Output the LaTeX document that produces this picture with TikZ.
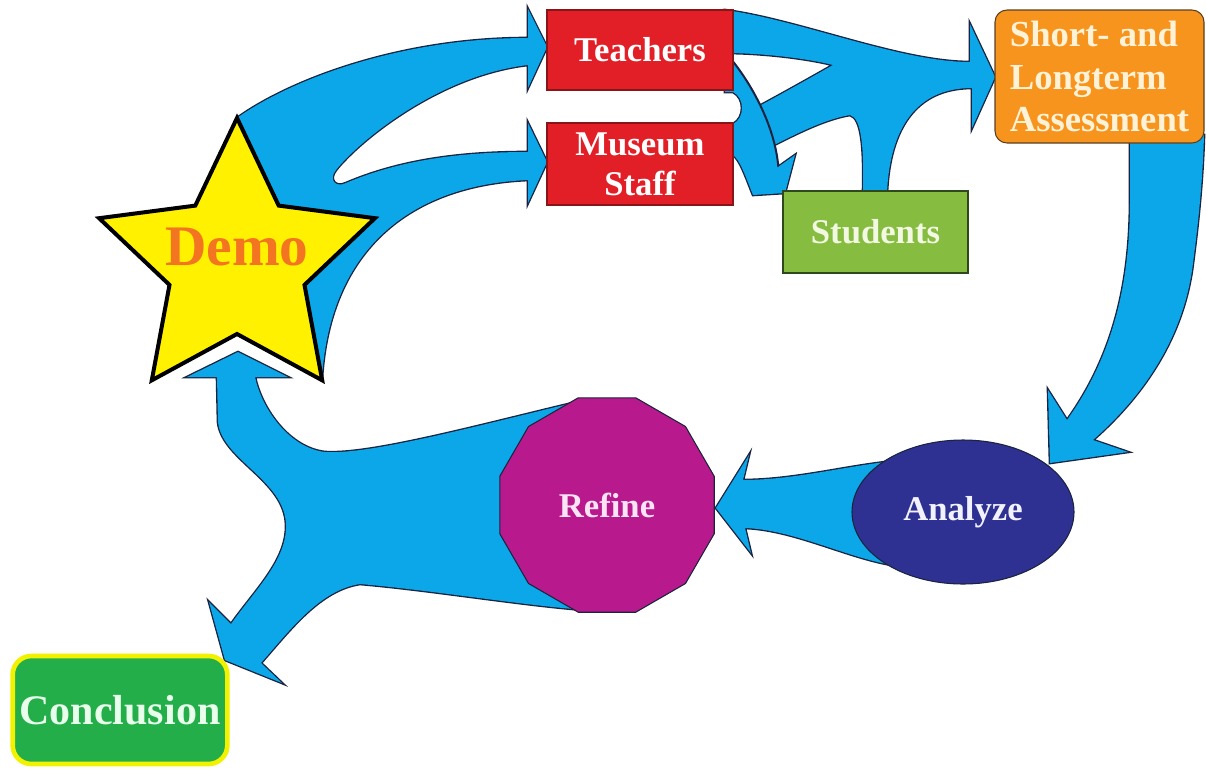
\documentclass[tikz,border=0pt]{standalone}
\usepackage{fontspec}
\setmainfont{Liberation Serif}
\usetikzlibrary{shapes.geometric}
\definecolor{flowblue}{HTML}{0BA7E8}
\definecolor{flowline}{HTML}{1B2340}
\definecolor{boxred}{HTML}{E21F27}
\definecolor{boxredline}{HTML}{8A1518}
\definecolor{boxgreen}{HTML}{86BD40}
\definecolor{boxgreenline}{HTML}{2E4A1C}
\definecolor{boxorange}{HTML}{F7941E}
\definecolor{boxorangeline}{HTML}{5B4020}
\definecolor{staryellow}{HTML}{FFF100}
\definecolor{demoorange}{HTML}{F47521}
\definecolor{refinemag}{HTML}{B8198C}
\definecolor{analyzenavy}{HTML}{2E3191}
\definecolor{concgreen}{HTML}{23AE4A}
\definecolor{concyellow}{HTML}{F2F200}
\definecolor{studtext}{HTML}{F2F8E2}
\definecolor{assesstext}{HTML}{FFF2D6}
\definecolor{refinetext}{HTML}{FBE4F4}
\definecolor{analyzetext}{HTML}{F2F2FF}
\definecolor{conctext}{HTML}{E8FFEC}
\begin{document}
\begin{tikzpicture}[x=0.75pt,y=-0.75pt,
  blob/.style={fill=flowblue, preaction={draw=flowline, line width=2pt}},
  lbl/.style={font=\fontsize{26}{32}\selectfont\bfseries},
  redbox/.style={draw=boxredline, fill=boxred, line width=0.8pt, minimum width=139.5pt, minimum height=60pt, inner sep=0pt, lbl, text=white}
]
\useasboundingbox (0,0) rectangle (1206,768);

% Demo -> Teachers / Museum Staff
\path[blob] (237,118) .. controls (290,80) and (400,38) .. (528,38)
  -- (528,9) -- (547,47) -- (528,88) -- (528,65)
  .. controls (440,75) and (360,140) .. (336,170)
  .. controls (328,180) and (336,188) .. (346,183)
  .. controls (400,160) and (460,152) .. (528,152)
  -- (528,123) -- (547,162) -- (528,203) -- (528,180)
  .. controls (410,185) and (330,250) .. (322,378)
  -- (240,300) -- cycle;

% Teachers / Museum / Students -> Assessment
\path[blob] (725,10) .. controls (800,20) and (900,62) .. (970,62)
  -- (970,24) -- (995,77) -- (972,128) -- (972,88)
  .. controls (915,88) and (890,130) .. (887,192)
  -- (863,192)
  .. controls (864,150) and (862,118) .. (850,115)
  .. controls (820,120) and (785,140) .. (760,152)
  -- (748,112)
  .. controls (780,95) and (810,78) .. (833,65)
  .. controls (805,58) and (760,53) .. (725,53) -- cycle;

% Teachers / Museum -> Students
\path[blob] (725,60) -- (733,62) .. controls (755,90) and (775,130) .. (778,167)
  -- (795,155) -- (785,193) -- (753,195)
  .. controls (745,175) and (740,160) .. (733,155) -- (725,155) -- (725,124) -- (733,124)
  .. controls (745,118) and (745,98) .. (733,92) -- (725,92) -- cycle;
\draw[flowline, line width=1pt] (733,62) .. controls (755,90) and (775,130) .. (778,167);

% Assessment -> Analyze
\path[blob] (1130,135) -- (1130,200) .. controls (1130,290) and (1110,360) .. (1067,420)
  -- (1048,390) -- (1050,463) -- (1128,452) -- (1093,440)
  .. controls (1150,390) and (1185,330) .. (1193,263)
  .. controls (1200,210) and (1203,170) .. (1204,135) -- cycle;

% Analyze -> Refine
\path[blob] (910,460) .. controls (860,462) and (800,480) .. (743,480)
  -- (749,455) -- (716,508) -- (751,553) -- (745,528)
  .. controls (800,530) and (860,565) .. (910,567) -- cycle;

% Refine -> Demo / Conclusion
\path[blob] (585,400) .. controls (480,425) and (370,455) .. (325,452)
  .. controls (290,448) and (262,410) .. (255,377)
  -- (288,377) -- (238,352) -- (187,377) -- (217,377)
  -- (218,422) .. controls (222,460) and (285,480) .. (286,525)
  .. controls (287,560) and (255,590) .. (231,624)
  -- (209,602) -- (225,660) -- (282,683) -- (261,663)
  .. controls (290,630) and (320,590) .. (360,584)
  .. controls (430,590) and (520,605) .. (585,610)
  -- (600,505) -- cycle;

% Star
\draw[fill=staryellow, draw=black, line width=3pt] (237,118) -- (278.7,205.6) -- (374.9,218.2) -- (304.5,284.9) -- (322.2,380.3) -- (237,334) -- (151.8,380.3) -- (169.5,284.9) -- (99.1,218.2) -- (195.3,205.6) -- cycle;
\node[font=\fontsize{43}{50}\selectfont\bfseries, text=demoorange] (demo) at (237,247) {Demo};

% Boxes
\node[redbox] (teachers) at (640,50) {Teachers};
\node[redbox, minimum height=61.5pt, align=center] (museum) at (640,164) {Museum\\[-2pt]Staff};
\node[draw=boxgreenline, fill=boxgreen, line width=0.8pt, minimum width=138.75pt, minimum height=61.5pt, inner sep=0pt, lbl, text=studtext] (students) at (875.5,232) {Students};
\node[draw=boxorangeline, fill=boxorange, line width=0.8pt, rounded corners=9pt, minimum width=156.75pt, minimum height=99.75pt, inner sep=0pt, align=left, font=\fontsize{27.5}{32}\selectfont\bfseries, text=assesstext] (assess) at (1099.5,76.5) {Short- and\\Longterm\\Assessment};

\node[regular polygon, regular polygon sides=12, minimum size=166.5pt, inner sep=0pt, fill=refinemag, draw=flowline, line width=0.8pt, lbl, text=refinetext] (refine) at (607,505) {Refine};
\node[ellipse, minimum width=166.5pt, minimum height=108pt, inner sep=0pt, fill=analyzenavy, draw=flowline, line width=0.8pt, lbl, text=analyzetext] (analyze) at (963,512) {Analyze};

\node[draw=concyellow, line width=3.5pt, fill=concgreen, rounded corners=14pt, minimum width=161pt, minimum height=81pt, inner sep=0pt, font=\fontsize{31.5}{38}\selectfont\bfseries, text=conctext] (conclusion) at (120,710) {Conclusion};
\end{tikzpicture}
\end{document}
